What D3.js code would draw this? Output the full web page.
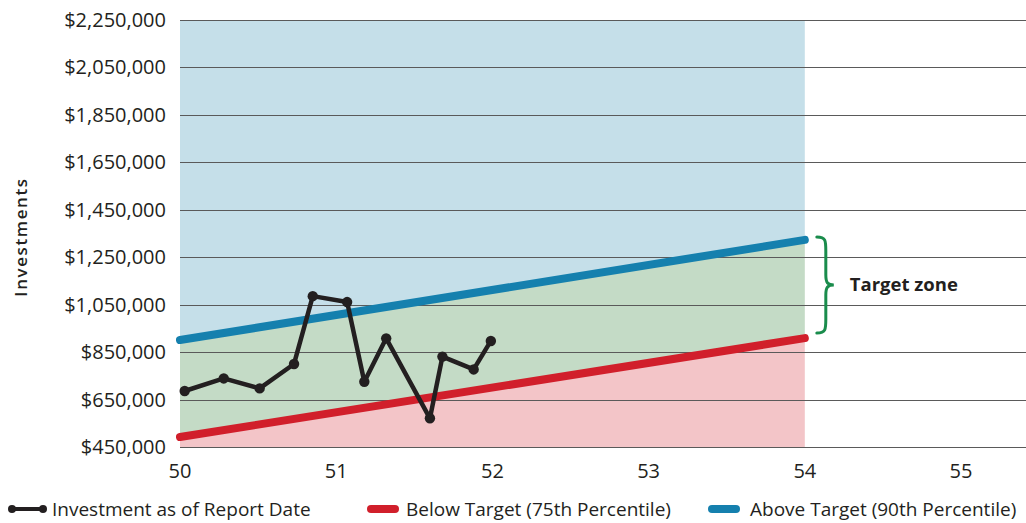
<!DOCTYPE html>
<html><head><meta charset="utf-8">
<script src="https://cdn.jsdelivr.net/npm/d3@7"></script>
<style>
body{margin:0;background:#fff;}
svg{display:block;font-family:"Open Sans",sans-serif;}
</style></head>
<body>
<svg id="chart" width="1026" height="523"></svg>
<script>
// ---- data ----
const ages = [50.03, 50.28, 50.51, 50.73, 50.85, 51.07, 51.18, 51.32, 51.60, 51.68, 51.88, 51.99];
const investments = [686000, 739000, 697000, 800000, 1086000, 1061000, 725000, 908000, 571000, 831000, 777000, 897000];
const targetAges = [50, 54];
const below75 = [492000, 909000];
const above90 = [901000, 1323000];
const yTicks = [450000, 650000, 850000, 1050000, 1250000, 1450000, 1650000, 1850000, 2050000, 2250000];
const xTicks = [50, 51, 52, 53, 54, 55];
const legendLabels = ["Investment as of Report Date", "Below Target (75th Percentile)", "Above Target (90th Percentile)"];

(function(){
const svg = d3.select("#chart");
const x = d3.scaleLinear().domain([50, 55.416]).range([180, 1026]);
const y = d3.scaleLinear().domain([450000, 2250000]).range([447, 20]);

const colors = {blueBg:"#c5dfe9", greenBg:"#c4dbc6", pinkBg:"#f3c5c8", blue:"#1580ae", red:"#d11f2b", black:"#231f20", brace:"#1a8c4c"};

const tgt = targetAges.map((a,i)=>({a, lo: below75[i], hi: above90[i]}));

// backgrounds
svg.append("path").datum(tgt).attr("fill", colors.blueBg)
  .attr("d", d3.area().x(d=>x(d.a)).y0(d=>y(d.hi)).y1(()=>y(2250000)));
svg.append("path").datum(tgt).attr("fill", colors.greenBg)
  .attr("d", d3.area().x(d=>x(d.a)).y0(d=>y(d.lo)).y1(d=>y(d.hi)));
svg.append("path").datum(tgt).attr("fill", colors.pinkBg)
  .attr("d", d3.area().x(d=>x(d.a)).y0(()=>y(450000)).y1(d=>y(d.lo)));

// gridlines
svg.append("g").selectAll("line").data(yTicks).join("line")
  .attr("x1", x(50)).attr("x2", 1026)
  .attr("y1", d=>Math.round(y(d))+0.5).attr("y2", d=>Math.round(y(d))+0.5)
  .attr("stroke", "#5a5a5a").attr("stroke-width", 1.2);

// y tick labels
const fmt = d3.format("$,");
svg.append("g").selectAll("text").data(yTicks).join("text")
  .attr("x", 166).attr("y", d=>y(d)).attr("dy", "0.35em")
  .attr("text-anchor", "end").attr("font-size", 20).attr("fill", "#231f20")
  .text(d=>fmt(d));

// x tick labels
svg.append("g").selectAll("text").data(xTicks).join("text")
  .attr("x", d=>x(d)).attr("y", 478)
  .attr("text-anchor", "middle").attr("font-size", 20).attr("fill", "#231f20")
  .text(d=>d);

// y title
svg.append("text").attr("transform", "translate(27,237) rotate(-90)")
  .attr("text-anchor", "middle").attr("font-size", 17).attr("font-weight", 600)
  .attr("letter-spacing", 1.6)
  .attr("fill", "#231f20").text("Investments");

// target lines
svg.append("path").datum(tgt).attr("fill","none").attr("stroke", colors.blue)
  .attr("stroke-width", 8).attr("stroke-linecap","round")
  .attr("d", d3.line().x(d=>x(d.a)).y(d=>y(d.hi)));
svg.append("path").datum(tgt).attr("fill","none").attr("stroke", colors.red)
  .attr("stroke-width", 8).attr("stroke-linecap","round")
  .attr("d", d3.line().x(d=>x(d.a)).y(d=>y(d.lo)));

// investment line
const pts = ages.map((a,i)=>({a, v: investments[i]}));
svg.append("path").datum(pts).attr("fill","none").attr("stroke", colors.black)
  .attr("stroke-width", 4.5).attr("stroke-linejoin","round")
  .attr("d", d3.line().x(d=>x(d.a)).y(d=>y(d.v)));
svg.append("g").selectAll("circle").data(pts).join("circle")
  .attr("cx", d=>x(d.a)).attr("cy", d=>y(d.v)).attr("r", 5.2).attr("fill", colors.black);

// brace
const bx = x(54) + 12, bTop = y(above90[1]) - 3, bBot = y(below75[1]) - 5, mid = (bTop+bBot)/2;
const w = 9;
const bracePath = `M${bx},${bTop} C${bx+w},${bTop} ${bx+w},${bTop+4} ${bx+w},${bTop+14}
 L${bx+w},${mid-10} C${bx+w},${mid-2} ${bx+w+2},${mid} ${bx+w+8},${mid}
 C${bx+w+2},${mid} ${bx+w},${mid+2} ${bx+w},${mid+10}
 L${bx+w},${bBot-14} C${bx+w},${bBot-4} ${bx+w},${bBot} ${bx},${bBot}`;
svg.append("path").attr("d", bracePath).attr("fill","none")
  .attr("stroke", colors.brace).attr("stroke-width", 3).attr("stroke-linecap","round");
svg.append("text").attr("x", bx+33).attr("y", mid).attr("dy","0.35em")
  .attr("font-size", 18.5).attr("font-weight", 700).attr("fill", "#231f20").text("Target zone");

// legend
const lg = svg.append("g").attr("font-size", 19).attr("fill", "#231f20");
const ly = 509;
lg.append("line").attr("x1", 12).attr("x2", 43).attr("y1", ly).attr("y2", ly)
  .attr("stroke", colors.black).attr("stroke-width", 4);
lg.selectAll("circle.l").data([12, 43]).join("circle").attr("class","l")
  .attr("cx", d=>d).attr("cy", ly).attr("r", 4).attr("fill", colors.black);
lg.append("text").attr("x", 52).attr("y", ly).attr("dy","0.35em").text(legendLabels[0]);
lg.append("line").attr("x1", 371).attr("x2", 395).attr("y1", ly).attr("y2", ly)
  .attr("stroke", colors.red).attr("stroke-width", 8).attr("stroke-linecap","round");
lg.append("text").attr("x", 406).attr("y", ly).attr("dy","0.35em").text(legendLabels[1]);
lg.append("line").attr("x1", 712).attr("x2", 736).attr("y1", ly).attr("y2", ly)
  .attr("stroke", colors.blue).attr("stroke-width", 8).attr("stroke-linecap","round");
lg.append("text").attr("x", 750).attr("y", ly).attr("dy","0.35em").text(legendLabels[2]);
})();
</script>
</body></html>
